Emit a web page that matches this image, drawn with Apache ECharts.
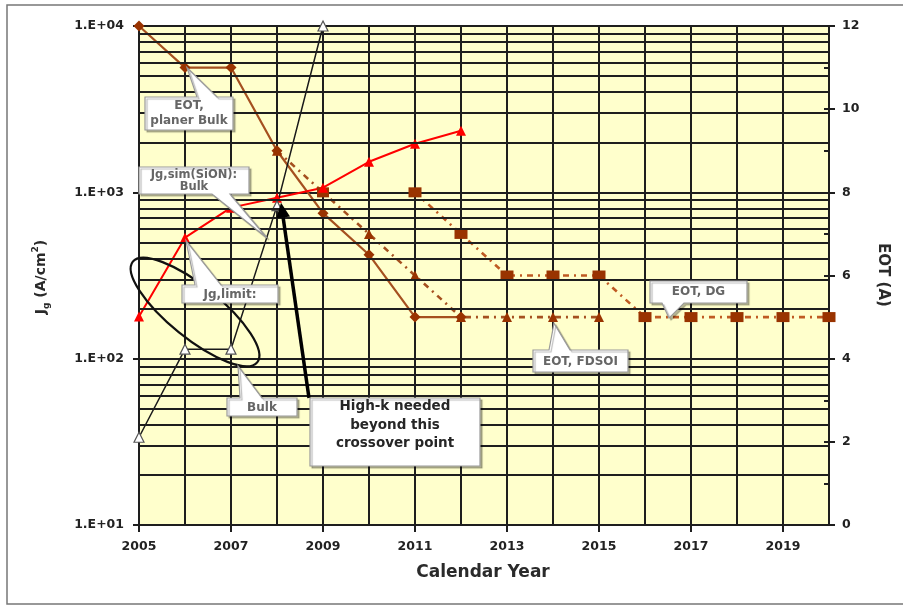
<!DOCTYPE html>
<html>
<head>
<meta charset="utf-8">
<script src="https://cdn.jsdelivr.net/npm/echarts@6/dist/echarts.min.js"></script>
<style>
  html, body { margin: 0; padding: 0; background: #ffffff; }
  #chart { width: 903px; height: 606px; }
</style>
</head>
<body>
<div id="chart"></div>
<script>
// Calendar years on the x axis
const years = ['2005', '2006', '2007', '2008', '2009', '2010', '2011', '2012',
               '2013', '2014', '2015', '2016', '2017', '2018', '2019', '2020'];

// Gate leakage current density, A/cm^2 (left, log axis)
const jgLimit   = [179, 534, 809, 929, 1066, 1527, 1958, 2343, null, null, null, null, null, null, null, null];
const jgSimBulk = [33.7, 114, 114, 832, 10000, null, null, null, null, null, null, null, null, null, null, null];

// Equivalent oxide thickness, A (right axis)
const eotPlanarBulk = [12, 11, 11, 9, 7.5, 6.5, 5, 5, null, null, null, null, null, null, null, null];
const eotFDSOI      = [null, null, null, 9, 8, 7, 6, 5, 5, 5, 5, null, null, null, null, null];
const eotDG         = [null, null, null, null, null, null, 8, 7, 6, 6, 6, 5, 5, 5, 5, 5];

// Intermediate log grid lines (2..9 within each decade)
const jgMinorGrid = [20, 30, 40, 50, 60, 70, 80, 90,
                     200, 300, 400, 500, 600, 700, 800, 900,
                     2000, 3000, 4000, 5000, 6000, 7000, 8000, 9000];

const FONT = '"DejaVu Sans", "Liberation Sans", sans-serif';
const INK = '#222222';
const GRID_INK = '#1e1e1e';
const BROWN = '#993300';
const BROWN_LINE = '#a5501f';
const DOT_PATTERN = [6, 5, 2, 5];

const chart = echarts.init(document.getElementById('chart'), null, { renderer: 'canvas' });

const axisText = { fontFamily: FONT, fontWeight: 'bold', fontSize: 12.5, color: INK };
// year labels and ticks every second year, none at the closing 2020 edge
const everyOtherYear = i => i % 2 === 0 && i < years.length - 1;

chart.setOption({
  animation: false,
  backgroundColor: '#ffffff',
  grid: {
    left: 139, right: 74, top: 26, bottom: 81,
    containLabel: false,
    show: true, backgroundColor: '#ffffcc', borderWidth: 0
  },
  xAxis: {
    type: 'category',
    data: years,
    boundaryGap: false,
    axisLine: { lineStyle: { color: GRID_INK, width: 2 } },
    axisTick: { show: true, interval: everyOtherYear, length: 7, lineStyle: { color: GRID_INK, width: 2 } },
    axisLabel: Object.assign({ interval: everyOtherYear, margin: 15, hideOverlap: false }, axisText),
    splitLine: { show: true, interval: 0, lineStyle: { color: GRID_INK, width: 2 } }
  },
  yAxis: [
    {
      type: 'log', logBase: 10, min: 10, max: 10000, splitNumber: 3,
      position: 'left',
      axisLine: { show: true, lineStyle: { color: GRID_INK, width: 2 } },
      axisTick: { show: true, length: 6, lineStyle: { color: GRID_INK, width: 2 } },
      axisLabel: Object.assign({
        margin: 15,
        formatter: v => '1.E+' + String(Math.round(Math.log10(v))).padStart(2, '0')
      }, axisText),
      splitLine: { show: true, lineStyle: { color: GRID_INK, width: 2 } }
    },
    {
      type: 'value', min: 0, max: 12, interval: 2,
      position: 'right',
      axisLine: { show: true, lineStyle: { color: GRID_INK, width: 2 } },
      axisTick: { show: true, length: 6, lineStyle: { color: GRID_INK, width: 2 } },
      axisLabel: Object.assign({ margin: 13 }, axisText),
      splitLine: { show: false }
    },
    {
      type: 'value', min: 0, max: 12, interval: 1,
      position: 'right',
      axisLine: { show: false },
      axisTick: { show: true, inside: true, length: 5, lineStyle: { color: GRID_INK, width: 2 } },
      axisLabel: { show: false },
      splitLine: { show: false }
    }
  ],
  series: [
    {
      // intermediate horizontal rules of the log grid
      name: 'grid',
      type: 'line',
      yAxisIndex: 0,
      data: [],
      z: 1,
      silent: true,
      markLine: {
        silent: true,
        symbol: 'none',
        label: { show: false },
        lineStyle: { type: 'solid', color: GRID_INK, width: 2 },
        data: jgMinorGrid.map(v => ({ yAxis: v }))
      }
    },
    {
      name: 'EOT, planer Bulk',
      type: 'line', yAxisIndex: 1, data: eotPlanarBulk,
      symbol: 'diamond', symbolSize: 11, showAllSymbol: true,
      lineStyle: { color: BROWN_LINE, width: 2.2 },
      itemStyle: { color: BROWN }
    },
    {
      name: 'EOT, FDSOI',
      type: 'line', yAxisIndex: 1,
      data: eotFDSOI.map((v, i) => (i === 4 ? { value: v, symbol: 'rect', symbolSize: [12, 10] } : v)),
      symbol: 'triangle', symbolSize: 10, showAllSymbol: true,
      lineStyle: { color: BROWN_LINE, width: 2.6, type: DOT_PATTERN },
      itemStyle: { color: BROWN }
    },
    {
      name: 'EOT, DG',
      type: 'line', yAxisIndex: 1, data: eotDG,
      symbol: 'rect', symbolSize: [13, 10], showAllSymbol: true,
      lineStyle: { color: '#bf5a22', width: 2.6, type: DOT_PATTERN },
      itemStyle: { color: BROWN }
    },
    {
      name: 'Jg,limit',
      type: 'line', yAxisIndex: 0, data: jgLimit,
      symbol: 'triangle', symbolSize: 10, showAllSymbol: true,
      lineStyle: { color: '#ff0000', width: 2 },
      itemStyle: { color: '#ff0000' }
    },
    {
      name: 'Jg,sim(SiON): Bulk',
      type: 'line', yAxisIndex: 0, data: jgSimBulk,
      symbol: 'triangle', symbolSize: 10, showAllSymbol: true,
      lineStyle: { color: '#1a1a1a', width: 1.5 },
      itemStyle: { color: '#ffffff', borderColor: '#555555', borderWidth: 1.2 }
    }
  ]
});

// ---- annotations ----------------------------------------------------------
const px = (yAxisIndex, i, v) => chart.convertToPixel({ xAxisIndex: 0, yAxisIndex: yAxisIndex }, [i, v]);

const calloutText = { fontFamily: FONT, fontWeight: 'bold', fontSize: 12, fill: '#666666' };
const bubbleStyle = {
  fill: '#ffffff', stroke: '#9a9a9a', lineWidth: 1.2,
  shadowColor: 'rgba(0,0,0,0.28)', shadowOffsetX: 2, shadowOffsetY: 2, shadowBlur: 1
};

// speech bubble: box [x1,y1,x2,y2] with a pointer leaving the top or bottom edge
function bubble(box, side, base, tip) {
  const [x1, y1, x2, y2] = box;
  let pts;
  if (side === 'top') {
    pts = [[x1, y1], [base[0], y1], tip, [base[1], y1], [x2, y1], [x2, y2], [x1, y2]];
  } else if (side === 'bottom') {
    pts = [[x1, y1], [x2, y1], [x2, y2], [base[1], y2], tip, [base[0], y2], [x1, y2]];
  } else {
    pts = [[x1, y1], [x2, y1], [x2, y2], [x1, y2]];
  }
  return { type: 'polygon', z: 50, shape: { points: pts }, style: bubbleStyle };
}

function label(text, x, y, extra) {
  return {
    type: 'text', z: 51, x: x, y: y,
    style: Object.assign({ text: text, align: 'center', verticalAlign: 'middle', lineHeight: 15 }, calloutText, extra || {})
  };
}

const pPlanar2006 = px(1, 1, eotPlanarBulk[1]);
const pLimit2006 = px(0, 1, jgLimit[1]);
const pFdsoi2014 = px(1, 9, eotFDSOI[9]);
const pDG2016 = px(1, 11, eotDG[11]);
const pCross = px(0, 3, jgLimit[3]);

// big arrow toward the crossover point
const arrowStart = [309, 398];
const arrowTip = [pCross[0] + 4, pCross[1] + 5];
const dx = arrowTip[0] - arrowStart[0], dy = arrowTip[1] - arrowStart[1];
const len = Math.sqrt(dx * dx + dy * dy);
const ux = dx / len, uy = dy / len;
const headLen = 15, headHalf = 7;
const hb = [arrowTip[0] - headLen * ux, arrowTip[1] - headLen * uy];
const arrowHead = [arrowTip, [hb[0] - headHalf * uy, hb[1] + headHalf * ux], [hb[0] + headHalf * uy, hb[1] - headHalf * ux]];

chart.setOption({
  graphic: [
    // outer frame
    { type: 'rect', z: 0, silent: true, shape: { x: 7, y: 5, width: 905, height: 599 },
      style: { fill: null, stroke: '#777777', lineWidth: 1.5 } },

    // axis titles
    { type: 'text', z: 60, x: 483, y: 573,
      style: { text: 'Calendar Year', fontFamily: FONT, fontWeight: 'bold', fontSize: 17, fill: '#2a2a2a',
               align: 'center', verticalAlign: 'middle' } },
    { type: 'text', z: 60, x: 41, y: 277, rotation: Math.PI / 2,
      style: {
        text: '{m|J}{s|g}{m| (A/cm}{p|2}{m|)}',
        align: 'center', verticalAlign: 'middle',
        rich: {
          m: { fontFamily: FONT, fontWeight: 'bold', fontSize: 14, fill: '#2a2a2a', lineHeight: 20, verticalAlign: 'middle' },
          s: { fontFamily: FONT, fontWeight: 'bold', fontSize: 9, fill: '#2a2a2a', lineHeight: 20, verticalAlign: 'bottom' },
          p: { fontFamily: FONT, fontWeight: 'bold', fontSize: 9, fill: '#2a2a2a', lineHeight: 20, verticalAlign: 'top' }
        }
      } },
    { type: 'text', z: 60, x: 883, y: 275, rotation: -Math.PI / 2,
      style: { text: 'EOT (A)', fontFamily: FONT, fontWeight: 'bold', fontSize: 15, fill: '#2a2a2a',
               align: 'center', verticalAlign: 'middle' } },

    // ellipse grouping the bulk points
    { type: 'ellipse', z: 40, x: 195, y: 312, rotation: -39 * Math.PI / 180,
      shape: { cx: 0, cy: 0, rx: 80, ry: 26 },
      style: { fill: null, stroke: '#111111', lineWidth: 2.2 } },

    // callouts
    bubble([145, 97, 233, 130], 'top', [197, 217], [pPlanar2006[0] + 2, pPlanar2006[1]]),
    label('EOT,\nplaner Bulk', 189, 113.5),

    bubble([139, 167, 249, 194], 'bottom', [212, 230], [267, 238]),
    label('Jg,sim(SiON):\nBulk', 194, 181, { fontSize: 11.5, lineHeight: 12 }),

    bubble([182, 285, 278, 303], 'top', [195, 221], [pLimit2006[0] + 1, pLimit2006[1] + 3]),
    label('Jg,limit:', 230, 294.5),

    bubble([227, 398, 297, 416], 'top', [240, 262], [238, 366]),
    label('Bulk', 262, 407.5),

    bubble([533, 350, 628, 372], 'top', [549, 570], [pFdsoi2014[0] + 1, pFdsoi2014[1] + 6]),
    label('EOT, FDSOI', 580.5, 361.5),

    bubble([650, 281, 747, 303], 'bottom', [662, 684], [pDG2016[0] + 24, pDG2016[1] + 1]),
    label('EOT, DG', 698.5, 292),

    bubble([310, 398, 480, 466], 'none'),
    label('High-k needed\nbeyond this\ncrossover point', 395, 425,
          { fontSize: 13.5, lineHeight: 18.5, fill: '#262626' }),

    // arrow
    { type: 'line', z: 45, shape: { x1: arrowStart[0], y1: arrowStart[1], x2: hb[0], y2: hb[1] },
      style: { stroke: '#000000', lineWidth: 3.5 } },
    { type: 'polygon', z: 45, shape: { points: arrowHead }, style: { fill: '#000000' } }
  ]
});
</script>
</body>
</html>
